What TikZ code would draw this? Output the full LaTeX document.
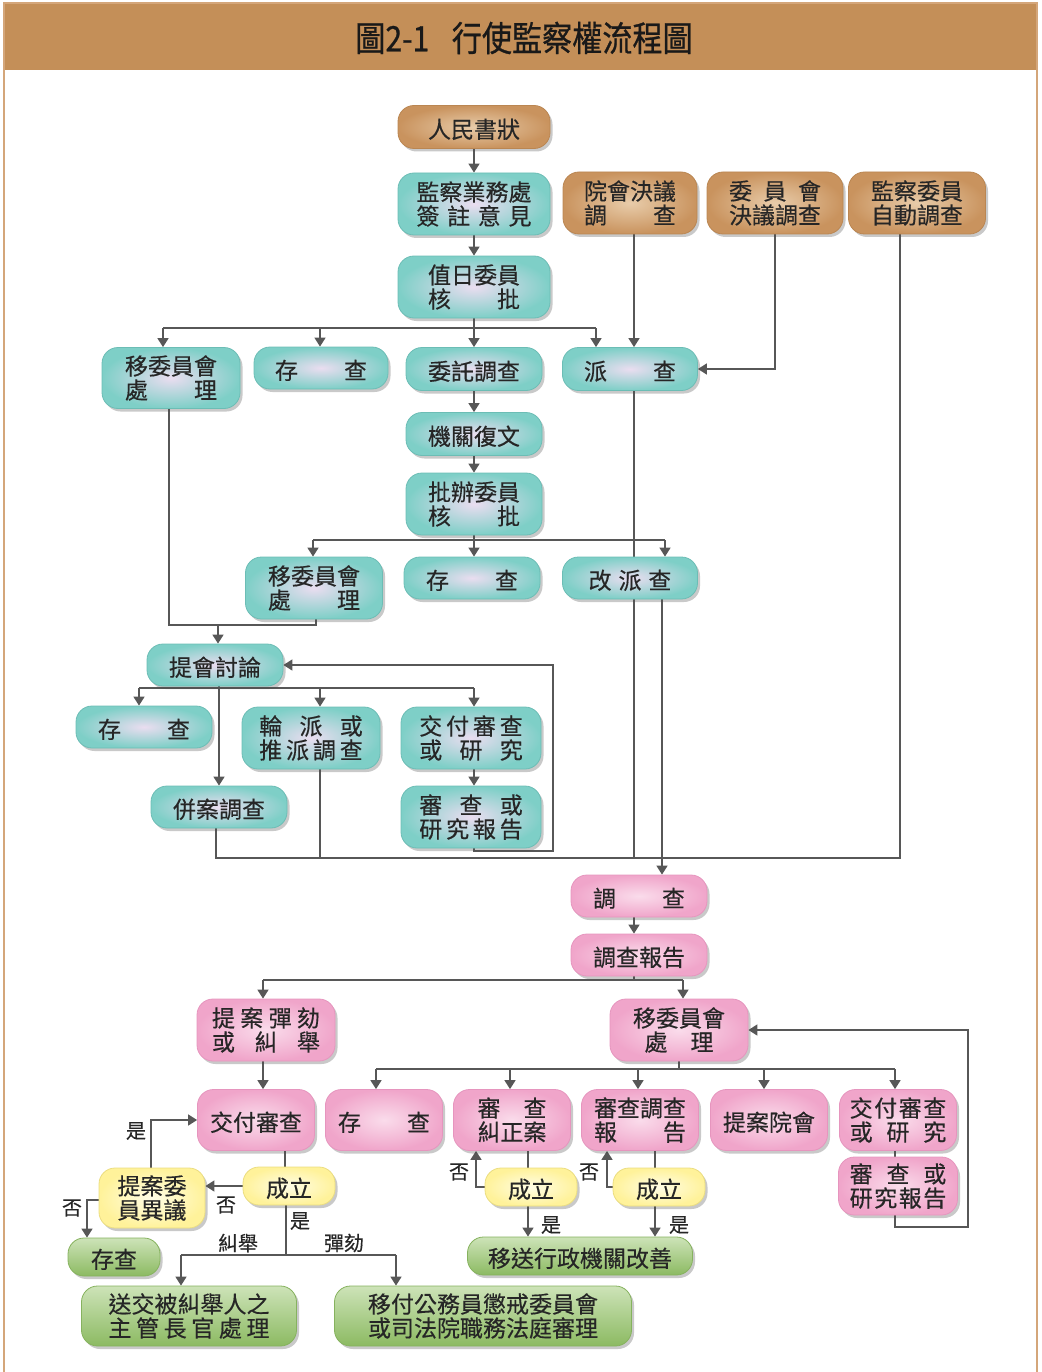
\documentclass[tikz,border=0pt]{standalone}
\usepackage{fontspec}
\usepackage{graphicx}
\newfontfamily\cjk[FakeBold=0.4]{Noto Sans CJK TC}
\newfontfamily\cjktitle[FakeBold=0.8]{Noto Sans CJK TC}
\usetikzlibrary{arrows.meta,shadows,backgrounds}
\definecolor{tealO}{HTML}{7ECFC7}
\definecolor{tealI}{HTML}{EADDF0}
\definecolor{tealD}{HTML}{6CBDB5}
\definecolor{brnO}{HTML}{C9935E}
\definecolor{brnI}{HTML}{E8CCAA}
\definecolor{brnD}{HTML}{BA8652}
\definecolor{pnkO}{HTML}{F0A5CA}
\definecolor{pnkI}{HTML}{FADCEB}
\definecolor{pnkD}{HTML}{E695BE}
\definecolor{ylwO}{HTML}{FFF29A}
\definecolor{ylwI}{HTML}{FFFDE6}
\definecolor{ylwD}{HTML}{EBDD80}
\definecolor{grnT}{HTML}{CDE3B8}
\definecolor{grnB}{HTML}{8CBA62}
\definecolor{grnD}{HTML}{86B25E}
\definecolor{lineC}{HTML}{575757}
\definecolor{bandC}{HTML}{C48F58}
\definecolor{frameC}{HTML}{D4A67A}
\newcommand{\sprd}[2]{\makebox[#1]{#2}}
\begin{document}
\begin{tikzpicture}[x=1pt,y=-1pt,
  bx/.style={rectangle, rounded corners=16pt, inner sep=0pt, align=center,
    font=\cjk\fontsize{23}{24}\selectfont, text=black!85, line width=0.8pt,
    execute at begin node={\rule{0pt}{24pt}},
    drop shadow={shadow xshift=2.5pt, shadow yshift=-3pt, opacity=0.3, fill=black!70}},
  sz/.style n args={2}{minimum width=#1pt, minimum height=#2pt},
  tb/.style={bx, inner color=tealI, outer color=tealO, draw=tealD},
  bb/.style={bx, inner color=brnI, outer color=brnO, draw=brnD},
  pb/.style={bx, inner color=pnkI, outer color=pnkO, draw=pnkD},
  yb/.style={bx, inner color=ylwI, outer color=ylwO, draw=ylwD},
  gb/.style={bx, top color=grnT, bottom color=grnB, draw=grnD},
  ln/.style={draw=lineC, line width=1.6pt},
  arr/.style={ln, -{Triangle[width=11pt,length=9pt]}},
  lbl/.style={font=\cjk\fontsize{20}{22}\selectfont, text=black!85, inner sep=0pt},
]
\useasboundingbox (0,0) rectangle (1041,1372);
% frame and title band
\fill[bandC] (4,4) rectangle (1037,70);
\draw[frameC, line width=2pt] (4,3) rectangle (1037,1376);
\node[font=\cjktitle\fontsize{35}{36}\selectfont, text=black!90, inner sep=0pt] (title) at (524,38)
  {\scalebox{0.86}[1]{圖2-1\hspace{0.75em}行使監察權流程圖}};

% top part
\node[bb, sz={152}{43}] (n1) at (474,127) {人民書狀};
\node[tb, sz={152}{62}] (n2) at (474,204) {監察業務處\\\sprd{5em}{簽\hfill 註\hfill 意\hfill 見}};
\node[bb, sz={134}{62}] (b1) at (630,203) {院會決議\\\sprd{4em}{調\hfill 查}};
\node[bb, sz={136}{62}] (b2) at (775,203) {\sprd{4em}{委\hfill 員\hfill 會}\\決議調查};
\node[bb, sz={137}{62}] (b3) at (917,203) {監察委員\\自動調查};
\node[tb, sz={152}{62}] (n3) at (474,287) {值日委員\\\sprd{4em}{核\hfill 批}};
\node[tb, sz={138}{61}] (r1) at (171,378) {移委員會\\\sprd{4em}{處\hfill 理}};
\node[tb, sz={134}{42}] (r2) at (321,368) {\sprd{4em}{存\hfill 查}};
\node[tb, sz={136}{43}] (r3) at (474,369) {委託調查};
\node[tb, sz={135}{43}] (r4) at (630,369) {\sprd{4em}{派\hfill 查}};
\node[tb, sz={136}{43}] (n4) at (474,434) {機關復文};
\node[tb, sz={136}{62}] (n5) at (474,504) {批辦委員\\\sprd{4em}{核\hfill 批}};
\node[tb, sz={137}{62}] (s1) at (314,588) {移委員會\\\sprd{4em}{處\hfill 理}};
\node[tb, sz={136}{42}] (s2) at (472,578) {\sprd{4em}{存\hfill 查}};
\node[tb, sz={135}{42}] (s3) at (630,578) {\sprd{3.6em}{改\hfill 派\hfill 查}};
\node[tb, sz={136}{42}] (d) at (215,665) {提會討論};
\node[tb, sz={136}{42}] (t1) at (144,727) {\sprd{4em}{存\hfill 查}};
\node[tb, sz={138}{62}] (t2) at (311,738) {\sprd{4.5em}{輪\hfill 派\hfill 或}\\\sprd{4.5em}{推\hfill 派\hfill 調\hfill 查}};
\node[tb, sz={140}{62}] (t3) at (471,738) {\sprd{4.5em}{交\hfill 付\hfill 審\hfill 查}\\\sprd{4.5em}{或\hfill 研\hfill 究}};
\node[tb, sz={136}{42}] (t4) at (219,807) {併案調查};
\node[tb, sz={140}{62}] (t5) at (471,817) {\sprd{4.5em}{審\hfill 查\hfill 或}\\\sprd{4.5em}{研\hfill 究\hfill 報\hfill 告}};

% pink part
\node[pb, sz={136}{42}] (p1) at (639,896) {\sprd{4em}{調\hfill 查}};
\node[pb, sz={136}{42}] (p2) at (639,955) {調查報告};
\node[pb, sz={138}{62}] (p3) at (266,1030) {\sprd{4.7em}{提\hfill 案\hfill 彈\hfill 劾}\\\sprd{4.7em}{或\hfill 糾\hfill 舉}};
\node[pb, sz={138}{62}] (p4) at (679,1030) {移委員會\\處\hspace{1em}理};
\node[pb, sz={117}{61}] (q1) at (256,1120) {交付審查};
\node[pb, sz={117}{61}] (q2) at (384,1120) {\sprd{4em}{存\hfill 查}};
\node[pb, sz={117}{61}] (q3) at (512,1120) {\sprd{3em}{審\hfill 查}\\糾正案};
\node[pb, sz={117}{61}] (q4) at (640,1120) {審查調查\\\sprd{4em}{報\hfill 告}};
\node[pb, sz={117}{61}] (q5) at (769,1120) {提案院會};
\node[pb, sz={117}{61}] (q6) at (898,1120) {\sprd{4.2em}{交\hfill 付\hfill 審\hfill 查}\\\sprd{4.2em}{或\hfill 研\hfill 究}};
\node[pb, sz={119}{58}] (q7) at (898,1186) {\sprd{4.2em}{審\hfill 查\hfill 或}\\\sprd{4.2em}{研\hfill 究\hfill 報\hfill 告}};

% yellow and green
\node[yb, sz={92}{38}] (y1) at (289,1186) {成立};
\node[yb, sz={106}{60}] (y2) at (152,1198) {提案委\\員異議};
\node[yb, sz={92}{38}] (y3) at (531,1187) {成立};
\node[yb, sz={92}{38}] (y4) at (659,1187) {成立};
\node[gb, sz={92}{38}] (g1) at (114,1257) {存查};
\node[gb, sz={225}{38}] (g2) at (580,1256) {移送行政機關改善};
\node[gb, sz={215}{60}] (g3) at (189,1316) {送交被糾舉人之\\\sprd{7em}{主\hfill 管\hfill 長\hfill 官\hfill 處\hfill 理}};
\node[gb, sz={297}{60}] (g4) at (483,1316) {移付公務員懲戒委員會\\或司法院職務法庭審理};

% labels
\node[lbl] (l1) at (136,1131) {是};
\node[lbl] (l2) at (226,1205) {否};
\node[lbl] (l3) at (72,1208) {否};
\node[lbl] (l4) at (300,1221) {是};
\node[lbl] (l5) at (238,1243) {糾舉};
\node[lbl] (l6) at (344,1243) {彈劾};
\node[lbl] (l7) at (459,1172) {否};
\node[lbl] (l8) at (589,1172) {否};
\node[lbl] (l9) at (551,1225) {是};
\node[lbl] (l10) at (679,1225) {是};

% junction coordinates
\coordinate (A1) at (163,328);
\coordinate (A2) at (596,328);
\coordinate (A3) at (320,328);
\coordinate (B1) at (634,234);
\coordinate (C1) at (900,234);
\coordinate (M) at (900,858);
\coordinate (Mw) at (216,858);
\coordinate (T2b) at (320,768);
\coordinate (D1) at (662,598);
\coordinate (E1) at (313,540);
\coordinate (E2) at (665,540);
\coordinate (F1) at (169,625);
\coordinate (F2) at (316,625);
\coordinate (F3) at (218,625);
\coordinate (G1) at (139,688);
\coordinate (G2) at (474,688);
\coordinate (G3) at (320,688);
\coordinate (G4) at (219,686);
\coordinate (H1) at (474,851);
\coordinate (H2) at (553,851);
\coordinate (P1) at (634,917);
\coordinate (P2) at (634,980);
\coordinate (P3) at (263,980);
\coordinate (P4) at (683,980);
\coordinate (Qa) at (376,1069);
\coordinate (Qb) at (510,1069);
\coordinate (Qc) at (638,1069);
\coordinate (Qd) at (764,1069);
\coordinate (Qe) at (895,1069);
\coordinate (R1) at (285,1150);
\coordinate (R2) at (151,1168);
\coordinate (R3) at (87,1200);
\coordinate (S0) at (286,1255);
\coordinate (S1) at (181,1255);
\coordinate (S2) at (396,1255);
\coordinate (U1) at (528,1150);
\coordinate (U2) at (476,1187);
\coordinate (W1) at (655,1150);
\coordinate (W2) at (607,1187);
\coordinate (V1) at (895,1227);
\coordinate (V2) at (968,1227);

\begin{scope}[on background layer]
  \draw[arr] (n1.south) -- (n2.north);
  \draw[arr] (n2.south) -- (n3.north);
  \draw[ln] (n3.south) -- (n3.south |- A1);
  \draw[ln] (A1) -- (A2);
  \draw[arr] (A1) -- (A1 |- r1.north);
  \draw[arr] (A3) -- (A3 |- r2.north);
  \draw[arr] (n3.south |- A1) -- (r3.north);
  \draw[arr] (A2) -- (A2 |- r4.north);
  \draw[arr] (B1) -- (B1 |- r4.north);
  \draw[arr] (b2.south) |- (r4.east);
  \draw[ln] (C1) -- (M) -- (Mw) -- (Mw |- t4.south);
  \draw[ln] (T2b) -- (T2b |- M);
  \draw[ln] (B1 |- r4.south) -- (B1 |- M);
  \draw[arr] (D1) -- (D1 |- p1.north);
  \draw[arr] (r3.south) -- (n4.north);
  \draw[arr] (n4.south) -- (n5.north);
  \draw[ln] (n5.south) -- (n5.south |- E1);
  \draw[ln] (E1) -- (E2);
  \draw[arr] (E1) -- (E1 |- s1.north);
  \draw[arr] (n5.south |- E1) -- (n5.south |- s2.north);
  \draw[arr] (E2) -- (E2 |- s3.north);
  \draw[ln] (F1 |- r1.south) -- (F1) -- (F2) -- (F2 |- s1.south);
  \draw[arr] (F3) -- (F3 |- d.north);
  \draw[ln] (G1) -- (G2);
  \draw[arr] (G1) -- (G1 |- t1.north);
  \draw[arr] (G3) -- (G3 |- t2.north);
  \draw[arr] (G2) -- (G2 |- t3.north);
  \draw[arr] (G4) -- (G4 |- t4.north);
  \draw[arr] (G2 |- t3.south) -- (G2 |- t5.north);
  \draw[arr] (H1 |- t5.south) -- (H1) -- (H2) |- (d.east);
  \draw[arr] (P1) -- (P1 |- p2.north);
  \draw[ln] (P2 |- p2.south) -- (P2);
  \draw[ln] (P3) -- (P4);
  \draw[arr] (P3) -- (P3 |- p3.north);
  \draw[arr] (P4) -- (P4 |- p4.north);
  \draw[arr] (P3 |- p3.south) -- (P3 |- q1.north);
  \draw[ln] (p4.south) -- (p4.south |- Qa);
  \draw[ln] (Qa) -- (Qe);
  \draw[arr] (Qa) -- (Qa |- q2.north);
  \draw[arr] (Qb) -- (Qb |- q3.north);
  \draw[arr] (Qc) -- (Qc |- q4.north);
  \draw[arr] (Qd) -- (Qd |- q5.north);
  \draw[arr] (Qe) -- (Qe |- q6.north);
  \draw[ln] (R1) -- (R1 |- y1.north);
  \draw[arr] (y1.west) -- (y1.west -| y2.east);
  \draw[arr] (R2) |- (q1.west);
  \draw[arr] (y2.west |- R3) -- (R3) -- (R3 |- g1.north);
  \draw[ln] (S0 |- y1.south) -- (S0);
  \draw[ln] (S1) -- (S2);
  \draw[arr] (S1) -- (S1 |- g3.north);
  \draw[arr] (S2) -- (S2 |- g4.north);
  \draw[ln] (U1) -- (U1 |- y3.north);
  \draw[arr] (y3.west) -- (U2) -- (U2 |- q3.south);
  \draw[arr] (U1 |- y3.south) -- (U1 |- g2.north);
  \draw[ln] (W1) -- (W1 |- y4.north);
  \draw[arr] (y4.west) -- (W2) -- (W2 |- q4.south);
  \draw[arr] (W1 |- y4.south) -- (W1 |- g2.north);
  \draw[ln] (Qe |- q6.south) -- (Qe |- q7.north);
  \draw[arr] (V1 |- q7.south) -- (V1) -- (V2) |- (p4.east);
\end{scope}
\end{tikzpicture}
\end{document}
